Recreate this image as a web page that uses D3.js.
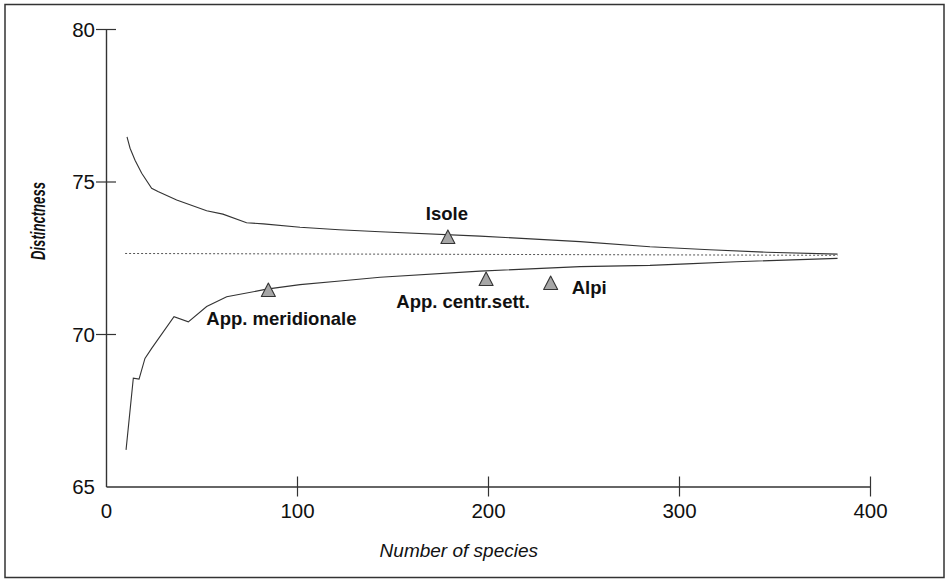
<!DOCTYPE html>
<html>
<head>
<meta charset="utf-8">
<script src="https://cdn.jsdelivr.net/npm/d3@7"></script>
<style>
  html, body { margin: 0; padding: 0; background: #fff; }
  svg { display: block; }
  text { font-family: "Liberation Sans", Arial, sans-serif; fill: #111; }
</style>
</head>
<body>
<svg id="chart" width="948" height="580"></svg>
<script>
// ---- Data ----
const upperX = [11, 12.6, 15.2, 18.7, 23.9, 27.2, 37, 52.7, 61.2, 73.6, 82.4, 101.6, 122, 143.5, 195.8, 248.2, 284.8, 316, 346, 383];
const upperY = [76.46, 76.09, 75.7, 75.27, 74.78, 74.67, 74.39, 74.04, 73.93, 73.65, 73.61, 73.5, 73.42, 73.35, 73.21, 73.03, 72.86, 72.76, 72.68, 72.62];

const lowerX = [10.5, 14.3, 17.3, 20.4, 23.9, 35.6, 43.1, 52.7, 63.2, 84.1, 101.6, 122.5, 143.5, 195.8, 248.2, 284.8, 304, 330, 383];
const lowerY = [66.2, 68.55, 68.52, 69.2, 69.53, 70.57, 70.4, 70.9, 71.22, 71.47, 71.62, 71.74, 71.86, 72.06, 72.21, 72.25, 72.30, 72.37, 72.48];

const meanX = [10, 383];
const meanY = [72.64, 72.58];

const regionNames = ["App. meridionale", "Isole", "App. centr.sett.", "Alpi"];
const regionSpecies = [85, 179, 199, 232.8];
const regionDistinctness = [71.41, 73.15, 71.77, 71.64];

const xTickValues = [0, 100, 200, 300, 400];
const yTickValues = [65, 70, 75, 80];

const xTitle = "Number of species";
const yTitle = "Distinctness";

// ---- Layout ----
const svg = d3.select("#chart");
const x = d3.scaleLinear().domain([0, 400]).range([106, 870]);
const y = d3.scaleLinear().domain([65, 80]).range([486.5, 29]);

// frame
svg.append("rect")
  .attr("x", 5).attr("y", 4.5).attr("width", 939).attr("height", 573)
  .attr("fill", "none").attr("stroke", "#333").attr("stroke-width", 1.5);

// axes
const xAxis = svg.append("g")
  .attr("transform", `translate(0,${y(65)})`)
  .call(d3.axisBottom(x).tickValues(xTickValues).tickFormat(d3.format("d")).tickSizeOuter(0));
xAxis.select(".domain").attr("stroke", "#333").attr("stroke-width", 1.4);
xAxis.selectAll(".tick line")
  .attr("y1", -10).attr("y2", 10)
  .attr("stroke", "#333").attr("stroke-width", 1.2)
  .attr("display", d => d === 0 ? "none" : null);
xAxis.selectAll(".tick text")
  .attr("y", 31).attr("dy", 0)
  .style("font-size", "20.5px").attr("fill", "#111");

const yAxis = svg.append("g")
  .attr("transform", `translate(${x(0)},0)`)
  .call(d3.axisLeft(y).tickValues(yTickValues).tickFormat(d3.format("d")).tickSizeOuter(0));
yAxis.select(".domain").attr("stroke", "#333").attr("stroke-width", 1.4);
yAxis.selectAll(".tick line")
  .attr("x1", -10).attr("x2", 10)
  .attr("stroke", "#333").attr("stroke-width", 1.2)
  .attr("display", d => d === 65 ? "none" : null);
yAxis.selectAll(".tick text")
  .attr("x", -11).attr("dy", "0.36em")
  .style("font-size", "20.5px").attr("fill", "#111");

// axis titles
svg.append("text")
  .attr("x", 538).attr("y", 557)
  .attr("text-anchor", "end")
  .style("font-size", "19px").style("font-style", "italic")
  .text(xTitle);

svg.append("text")
  .attr("transform", "translate(45,221) rotate(-90)")
  .attr("text-anchor", "middle")
  .attr("textLength", 78).attr("lengthAdjust", "spacingAndGlyphs")
  .style("font-size", "20px").style("font-style", "italic").style("font-weight", "bold")
  .text(yTitle);

// curves
const line = d3.line().x(d => x(d[0])).y(d => y(d[1]));
const upper = upperX.map((v, i) => [v, upperY[i]]);
const lower = lowerX.map((v, i) => [v, lowerY[i]]);
const mean = meanX.map((v, i) => [v, meanY[i]]);

svg.append("path").attr("d", line(upper))
  .attr("fill", "none").attr("stroke", "#333").attr("stroke-width", 1.1);
svg.append("path").attr("d", line(lower))
  .attr("fill", "none").attr("stroke", "#333").attr("stroke-width", 1.1);
svg.append("path").attr("d", line(mean))
  .attr("fill", "none").attr("stroke", "#555").attr("stroke-width", 1)
  .attr("stroke-dasharray", "2,2");

// region markers
const labelOffsets = {
  "App. meridionale": { dx: -62, dy: 34, anchor: "start" },
  "Isole": { dx: -1, dy: -18, anchor: "middle" },
  "App. centr.sett.": { dx: -23, dy: 28, anchor: "middle" },
  "Alpi": { dx: 21, dy: 10, anchor: "start" }
};

const regions = regionNames.map((n, i) => ({ name: n, sx: regionSpecies[i], dy: regionDistinctness[i] }));
const g = svg.append("g");
regions.forEach(r => {
  const cx = x(r.sx), cy = y(r.dy);
  g.append("path")
    .attr("d", `M${cx},${cy - 8}L${cx + 7},${cy + 5.5}L${cx - 7},${cy + 5.5}Z`)
    .attr("fill", "#a6a6a6").attr("stroke", "#333").attr("stroke-width", 1.1)
    .attr("stroke-linejoin", "round");
  const o = labelOffsets[r.name];
  g.append("text")
    .attr("x", cx + o.dx).attr("y", cy + o.dy)
    .attr("text-anchor", o.anchor)
    .style("font-size", "18.5px").style("font-weight", "bold")
    .text(r.name);
});
</script>
</body>
</html>
